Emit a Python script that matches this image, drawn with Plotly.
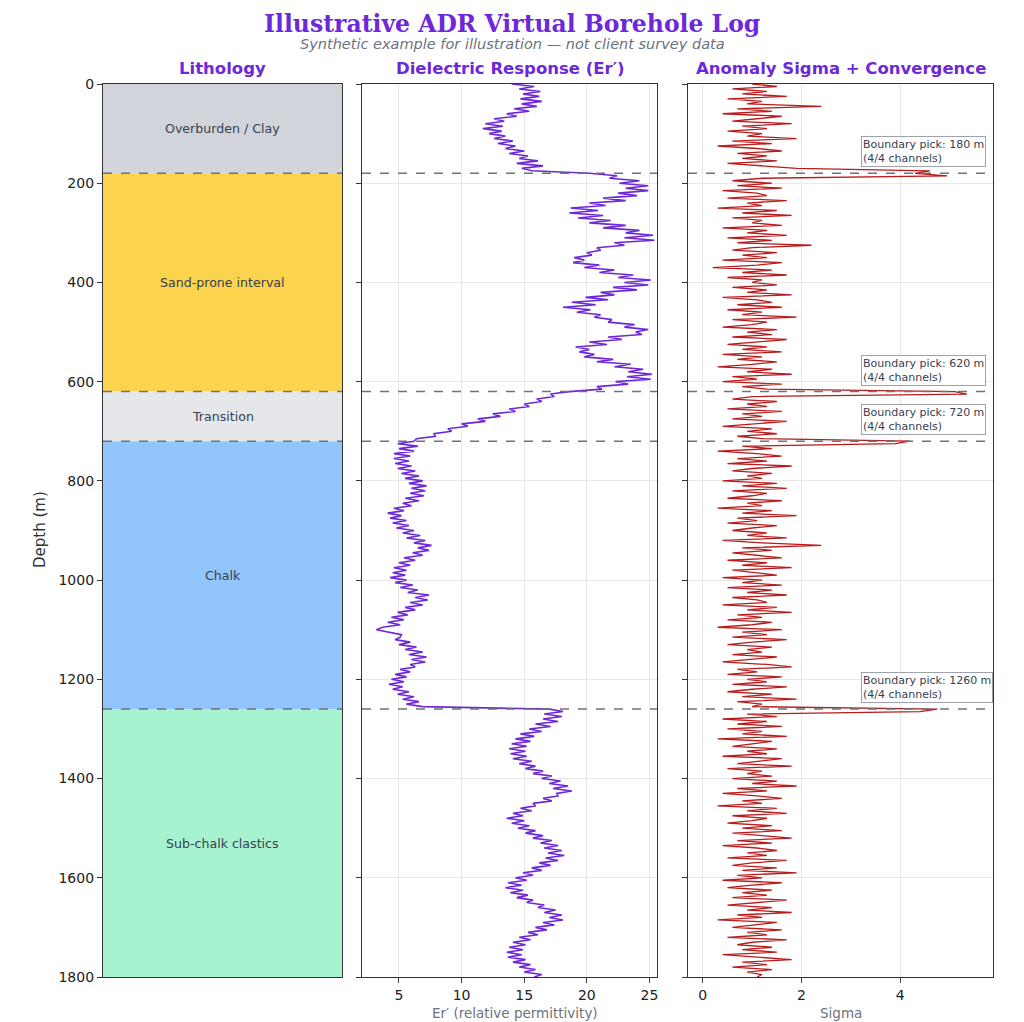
import plotly.graph_objects as go

# depth samples every 5 m, 0-1800
depth = list(range(0, 1805, 5))

# lithology layers
layer_names = ["Overburden / Clay", "Sand-prone interval", "Transition", "Chalk", "Sub-chalk clastics"]
layer_top = [0, 180, 620, 720, 1260]
layer_base = [180, 620, 720, 1260, 1800]
layer_colors = ["#D1D5DB", "#FCD34D", "#E5E7EB", "#93C5FD", "#A7F3D0"]

boundaries = [180, 620, 720, 1260]
boundary_channels = ["4/4", "4/4", "4/4", "4/4"]

# dielectric response (Er')
er = [
    14.0, 15.8, 14.6, 16.3, 14.9, 16.2, 14.7, 16.4, 14.8, 16.0,
    14.2, 15.4, 13.6, 14.4, 12.6, 13.4, 11.9, 13.3, 11.7, 13.2,
    12.2, 13.5, 12.6, 14.1, 12.9, 14.3, 13.5, 15.0, 13.8, 15.3,
    14.6, 16.1, 14.4, 16.5, 14.8, 15.6,
    # sand-prone 180-615
    20.2, 22.4, 21.8, 24.2, 22.6, 24.9, 23.1, 24.9, 22.5, 24.0,
    21.3, 23.1, 20.2, 21.5, 18.7, 20.9, 18.6, 21.3, 19.3, 21.9,
    20.2, 23.1, 21.3, 24.2, 23.1, 25.3, 23.0, 25.4, 22.2, 23.0,
    20.8, 21.1, 20.0, 20.4, 19.0, 19.8, 18.9, 21.0, 19.8, 22.2,
    21.0, 23.7, 22.5, 25.1, 23.0, 24.9, 22.1, 24.0, 21.1, 22.2,
    19.9, 21.7, 18.8, 20.7, 18.1, 20.3, 19.2, 21.1, 20.6, 22.0,
    21.7, 23.8, 23.0, 24.9, 23.9, 24.4, 21.7, 22.8, 20.2, 21.6,
    19.1, 20.2, 19.4, 20.6, 19.8, 22.1, 20.8, 23.5, 22.2, 24.5,
    23.3, 25.2, 23.2, 25.1, 22.3, 23.3, 20.8, 21.2,
    # transition 620-715
    18.6, 17.1, 17.4, 16.0, 16.4, 15.0, 15.4, 13.8, 14.3, 12.5,
    13.1, 11.3, 11.9, 10.0, 10.5, 8.9, 9.2, 7.8, 7.9, 6.4,
    # chalk 720-1255
    6.2, 4.9, 6.5, 5.0, 6.2, 4.6, 5.9, 4.6, 5.8, 4.7,
    6.0, 4.9, 6.3, 5.2, 6.6, 5.5, 6.9, 5.8, 7.2, 6.0,
    7.1, 5.9, 7.0, 5.5, 6.6, 5.3, 6.0, 4.6, 5.4, 4.1,
    5.2, 4.3, 5.6, 4.5, 5.8, 4.8, 6.2, 5.3, 6.7, 5.6,
    7.1, 6.2, 7.6, 6.5, 7.4, 6.1, 6.9, 5.4, 6.3, 5.0,
    5.9, 4.6, 5.6, 4.5, 5.5, 4.3, 5.6, 4.7, 6.1, 5.1,
    6.5, 5.7, 7.4, 6.3, 7.3, 5.9, 6.9, 5.5, 6.3, 4.9,
    5.7, 4.4, 5.4, 4.1, 5.1, 3.7, 3.2, 4.3, 5.2, 5.1,
    4.7, 5.9, 5.0, 6.4, 5.5, 6.9, 5.8, 7.2, 6.0, 7.1,
    5.9, 6.3, 5.1, 5.9, 4.7, 5.6, 4.4, 5.4, 4.2, 5.3,
    4.5, 5.8, 4.9, 6.2, 5.3, 6.6, 5.6, 6.9,
    # sub-chalk 1260-1800
    17.0, 18.1, 16.6, 18.0, 16.5, 17.7, 15.9, 17.1, 15.4, 16.4,
    14.7, 15.8, 14.3, 15.5, 14.0, 15.2, 13.8, 15.1, 13.9, 15.2,
    14.1, 15.6, 14.6, 15.9, 15.1, 16.5, 15.7, 17.2, 16.4, 17.9,
    17.0, 18.5, 17.3, 18.8, 17.6, 17.7, 16.5, 17.2, 15.7, 15.9,
    14.7, 15.6, 14.1, 14.9, 13.6, 15.0, 14.0, 15.4, 14.5, 15.9,
    15.1, 16.5, 15.7, 17.2, 16.3, 17.7, 16.6, 18.0, 16.9, 18.2,
    16.7, 17.7, 16.2, 17.1, 15.6, 16.4, 14.9, 15.7, 14.3, 15.2,
    13.7, 14.8, 13.5, 14.9, 13.9, 15.3, 14.4, 15.7, 15.2, 16.6,
    16.1, 17.5, 16.6, 18.0, 17.0, 18.1, 16.5, 17.4, 15.9, 16.8,
    15.3, 16.1, 14.6, 15.5, 14.1, 15.1, 13.8, 14.9, 13.6, 14.8,
    13.7, 15.1, 14.1, 15.5, 14.6, 15.9, 15.0, 16.4, 15.8,
]

# anomaly sigma, rows of 50 m
sigma = [
    1.0, 1.5, 0.6, 1.3, 0.8, 1.7, 0.5, 1.2, 0.9, 2.4,
    0.7, 1.4, 0.4, 1.6, 1.1, 0.6, 1.8, 0.8, 1.3, 0.5,
    1.2, 0.9, 1.9, 0.6, 1.4, 0.3, 1.1, 1.6, 0.7, 1.3,
    0.8, 1.5, 0.5, 1.2, 1.9, 4.6, 4.3, 4.95, 1.2, 0.6,
    1.4, 0.7, 1.6, 0.4, 1.1, 1.3, 0.5, 1.7, 0.9, 1.2,
    0.3, 1.5, 0.8, 1.8, 0.6, 1.2, 1.0, 1.6, 0.4, 1.3,
    0.9, 1.7, 0.5, 1.4, 0.7, 2.2, 1.0, 0.6, 1.5, 0.8,
    1.3, 0.4, 1.6, 1.1, 0.2, 1.4, 0.8, 1.7, 0.5, 1.2,
    1.0, 1.5, 0.6, 1.3, 0.9, 1.8, 0.4, 1.1, 1.4, 0.7,
    1.6, 0.5, 1.2, 0.8, 1.9, 0.6, 1.3, 1.0, 0.4, 1.5,
    0.9, 1.4, 0.6, 1.7, 1.1, 0.5, 1.3, 0.8, 1.6, 0.4,
    1.2, 0.7, 1.5, 1.0, 0.3, 1.4, 0.9, 1.8, 0.6, 1.1,
    0.4, 1.6, 0.8, 1.3, 5.1, 5.35, 1.0, 0.6, 1.5, 0.9,
    1.3, 0.5, 1.6, 0.8, 1.2, 0.6, 1.7, 1.0, 0.4, 1.4,
    0.9, 1.5, 0.7, 1.2, 4.2, 3.9, 0.8, 1.4, 0.3, 1.1,
    1.6, 0.7, 1.3, 0.5, 1.8, 1.0, 0.6, 1.4, 0.9, 1.2,
    0.4, 1.5, 0.8, 1.7, 0.6, 1.3, 1.0, 0.5, 1.6, 0.9,
    1.2, 0.3, 1.4, 0.8, 1.9, 0.7, 1.1, 0.5, 1.5, 1.0,
    0.6, 1.3, 0.9, 1.7, 0.4, 1.2, 2.4, 0.8, 1.4, 0.6,
    1.1, 1.6, 0.5, 1.3, 0.8, 1.8, 0.6, 1.0, 1.5, 0.4,
    1.2, 0.8, 1.6, 0.5, 1.4, 0.9, 1.7, 0.6, 1.1, 1.3,
    0.4, 1.5, 0.9, 1.8, 0.7, 1.2, 0.5, 1.4, 1.0, 0.3,
    1.6, 0.8, 1.3, 0.6, 1.7, 1.0, 0.5, 1.4, 0.9, 1.2,
    0.6, 1.5, 1.0, 0.4, 1.3, 1.8, 0.7, 1.1, 0.5, 1.6,
    0.9, 1.3, 0.6, 1.7, 1.0, 0.5, 1.4, 0.8, 1.9, 0.7,
    1.2, 1.0, 4.75, 4.4, 0.9, 1.5, 0.4, 1.3, 0.7, 1.6,
    0.5, 1.2, 0.8, 1.7, 0.3, 1.4, 1.0, 0.6, 1.5, 0.9,
    1.3, 0.4, 1.6, 1.1, 0.7, 1.8, 0.5, 1.2, 0.9, 1.4,
    0.6, 1.5, 1.0, 1.9, 0.7, 1.3, 0.4, 1.1, 1.6, 0.8,
    1.2, 0.3, 1.5, 0.9, 1.7, 0.6, 1.3, 1.0, 0.5, 1.4,
    0.8, 1.6, 0.6, 1.2, 1.8, 0.7, 1.4, 0.4, 1.1, 1.5,
    0.9, 1.3, 0.5, 1.7, 1.0, 0.6, 1.5, 0.8, 1.9, 0.7,
    1.2, 0.4, 1.6, 1.0, 0.5, 1.4, 0.8, 1.3, 0.6, 1.7,
    1.0, 0.5, 1.4, 0.9, 1.8, 0.7, 1.2, 0.3, 1.5, 1.1,
    0.6, 1.6, 0.9, 1.3, 0.5, 1.7, 1.0, 0.7, 1.4, 0.8,
    1.5, 0.4, 1.2, 1.8, 0.8, 1.3, 0.6, 1.4, 0.9, 1.2,
    1.1,
]

PURPLE = "#6D28D9"
FONT = "DejaVu Sans"
# page body has an 8px margin, so the figure is a bit smaller than the window
OFF = 8
W, H = 1024 - OFF, 1022 - OFF

def px_x(p):
    return (p - OFF) / W

def px_y(p):
    return 1 - (p - OFF) / H

fig = go.Figure()

# lithology blocks
fig.add_trace(go.Bar(
    x=[0.5] * len(layer_names),
    y=[b - t for t, b in zip(layer_top, layer_base)],
    base=layer_top,
    width=1,
    marker=dict(color=layer_colors, line=dict(width=0)),
    xaxis="x", yaxis="y",
    hoverinfo="skip", showlegend=False,
))

fig.add_trace(go.Scatter(
    x=er, y=depth, mode="lines",
    line=dict(color=PURPLE, width=1.6),
    xaxis="x2", yaxis="y2", showlegend=False,
))

fig.add_trace(go.Scatter(
    x=sigma, y=depth, mode="lines",
    line=dict(color="#B91C1C", width=1.3),
    xaxis="x3", yaxis="y3", showlegend=False,
))

y_dom = [px_y(977), px_y(84)]
frame = dict(showline=True, mirror=True, linecolor="#333333", linewidth=1.2, automargin=False)
yaxis_common = dict(
    range=[1800, 0], domain=y_dom, tickvals=list(range(0, 1801, 200)),
    ticks="outside", ticklen=5, tickcolor="#333333", zeroline=False, **frame,
)

fig.update_layout(
    width=W, height=H,
    margin=dict(l=0, r=0, t=0, b=0, autoexpand=False),
    paper_bgcolor="white", plot_bgcolor="white",
    font=dict(family=FONT, size=14, color="#222222"),
    barmode="overlay",
    xaxis=dict(domain=[px_x(103), px_x(342)], range=[0, 1], showticklabels=False,
               ticks="", showgrid=False, zeroline=False, **frame),
    xaxis2=dict(domain=[px_x(362), px_x(657)], range=[2.05, 25.6], tickvals=[5, 10, 15, 20, 25],
                ticks="outside", ticklen=5, showgrid=True, gridcolor="#E8E8E8",
                zeroline=False, anchor="y2", **frame),
    xaxis3=dict(domain=[px_x(688), px_x(993)], range=[-0.3, 5.88], tickvals=[0, 2, 4],
                ticks="outside", ticklen=5, showgrid=True, gridcolor="#E8E8E8",
                zeroline=False, anchor="y3", **frame),
    yaxis=dict(anchor="x", showgrid=False, **yaxis_common),
    yaxis2=dict(anchor="x2", matches="y", showticklabels=False, showgrid=True,
                gridcolor="#E8E8E8", **yaxis_common),
    yaxis3=dict(anchor="x3", matches="y", showticklabels=False, showgrid=True,
                gridcolor="#E8E8E8", **yaxis_common),
)

# boundary dashed lines across all tracks
for b in boundaries:
    for xr, yr in [("x domain", "y"), ("x2 domain", "y2"), ("x3 domain", "y3")]:
        fig.add_shape(type="line", xref=xr, yref=yr, x0=0, x1=1, y0=b, y1=b,
                      line=dict(color="#6B7280", width=1.5, dash="dash"))

annotations = []
for name, t, b in zip(layer_names, layer_top, layer_base):
    annotations.append(dict(x=0.5, y=(t + b) / 2, xref="x", yref="y", text=name,
                            showarrow=False, font=dict(size=12.6, color="#374151")))

for b, ch in zip(boundaries, boundary_channels):
    annotations.append(dict(
        x=3.2, y=b - 12, xref="x3", yref="y3", xanchor="left", yanchor="bottom",
        text=f"Boundary pick: {b} m<br>({ch} channels)", align="left", showarrow=False,
        font=dict(size=11, color="#374151"), bgcolor="white",
        bordercolor="#9CA3AF", borderwidth=1, borderpad=1,
    ))

def paper_text(x, y, text, font, **kw):
    return dict(x=px_x(x), y=px_y(y), xref="paper", yref="paper", showarrow=False,
                xanchor="center", yanchor="middle", text=text, font=font, **kw)

annotations += [
    paper_text(512, 24, "<b>Illustrative ADR Virtual Borehole Log</b>",
               dict(family="DejaVu Serif", size=23.5, color=PURPLE)),
    paper_text(512, 44, "<i>Synthetic example for illustration — not client survey data</i>",
               dict(size=14.5, color="#6B7280")),
    paper_text(222, 69, "<b>Lithology</b>", dict(size=16.5, color=PURPLE)),
    paper_text(510, 69, "<b>Dielectric Response (Er′)</b>", dict(size=16.5, color=PURPLE)),
    paper_text(841, 69, "<b>Anomaly Sigma + Convergence</b>", dict(size=16.5, color=PURPLE)),
    paper_text(515, 1013, "Er′ (relative permittivity)", dict(size=13.5, color="#6B7280")),
    paper_text(841, 1013, "Sigma", dict(size=13.5, color="#6B7280")),
    paper_text(40, 530, "Depth (m)", dict(size=15, color="#333333"), textangle=-90),
]
fig.update_layout(annotations=annotations)

fig.write_html("out.html")
